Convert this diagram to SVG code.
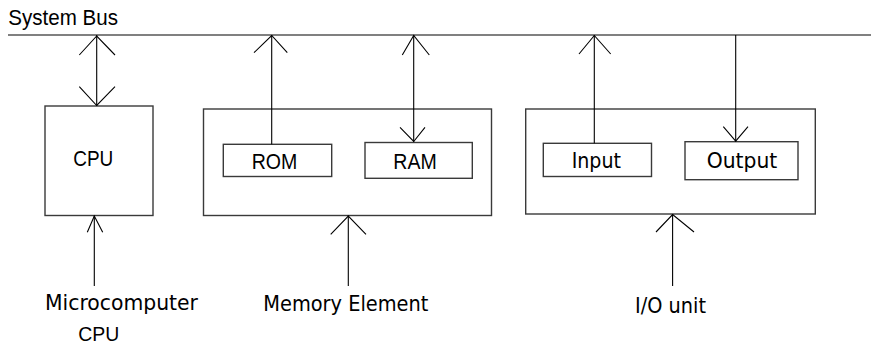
<svg xmlns="http://www.w3.org/2000/svg" width="871" height="343" viewBox="0 0 871 343">
<style>
.box{fill:none;stroke:#3a3a3a;stroke-width:1.4}
.bus{stroke:#808080;stroke-width:2}
.ln{fill:none;stroke:#000;stroke-width:1.1}
.a{font-family:"Liberation Sans",Arial,sans-serif;font-size:22px;fill:#000}
.d{font-family:"DejaVu Sans",Verdana,sans-serif;font-size:21px;fill:#000}
</style>
<rect width="871" height="343" fill="#fff"/>
<g id="bus">
<text class="a" x="8.3" y="24.5" textLength="109.7" lengthAdjust="spacingAndGlyphs">System Bus</text>
<line class="bus" x1="8" y1="35" x2="871" y2="35"/>
</g>
<g id="cpu">
<rect class="box" x="45" y="106" width="108" height="109.5"/>
<text class="a" x="73.3" y="166" textLength="40" lengthAdjust="spacingAndGlyphs">CPU</text>
</g>
<g id="memory">
<rect class="box" x="203.5" y="109" width="288" height="106.5"/>
</g>
<g id="rom">
<rect class="box" x="223.3" y="144.3" width="108.4" height="32.2"/>
<text class="a" x="251.7" y="169" textLength="45.6" lengthAdjust="spacingAndGlyphs">ROM</text>
</g>
<g id="ram">
<rect class="box" x="365" y="142.5" width="107.3" height="35.8"/>
<text class="a" x="393.3" y="169.3" textLength="43.4" lengthAdjust="spacingAndGlyphs">RAM</text>
</g>
<g id="io">
<rect class="box" x="525.7" y="109" width="289.6" height="105"/>
</g>
<g id="input">
<rect class="box" x="543.3" y="143.3" width="108.2" height="33.2"/>
<text class="d" x="571.7" y="168.3" textLength="49.3" lengthAdjust="spacingAndGlyphs">Input</text>
</g>
<g id="output">
<rect class="box" x="685" y="141.7" width="113" height="38"/>
<text class="d" x="706.7" y="168.3" textLength="70.6" lengthAdjust="spacingAndGlyphs">Output</text>
</g>
<g id="labels">
<text class="d" x="45" y="309.5" textLength="153" lengthAdjust="spacingAndGlyphs">Microcomputer</text>
<text class="a" x="78.3" y="340.5" style="font-size:21px" textLength="41" lengthAdjust="spacingAndGlyphs">CPU</text>
<text class="d" x="263.3" y="311" style="font-size:22px" textLength="165" lengthAdjust="spacingAndGlyphs">Memory Element</text>
<text class="d" x="635" y="313" style="font-size:22px" textLength="71" lengthAdjust="spacingAndGlyphs">I/O unit</text>
</g>
<g id="connectors">
<line class="ln" x1="96.7" y1="35" x2="96.7" y2="106"/>
<polyline class="ln" points="79.3,55 96.7,36 115,55"/>
<polyline class="ln" points="79.3,86.7 96.7,105.5 115,86.7"/>
<line class="ln" x1="271.7" y1="144.3" x2="271.7" y2="35"/>
<polyline class="ln" points="254,52.7 271.7,35.5 287.3,52.7"/>
<line class="ln" x1="413.7" y1="35" x2="413.7" y2="142"/>
<polyline class="ln" points="402.3,55 413.7,35.5 429.3,55"/>
<polyline class="ln" points="400,127.3 413.7,141.5 425,127.3"/>
<line class="ln" x1="594.3" y1="143.3" x2="594.3" y2="35"/>
<polyline class="ln" points="579,54 594.3,35.5 610.7,54"/>
<line class="ln" x1="735.7" y1="35" x2="735.7" y2="141.7"/>
<polyline class="ln" points="723.3,126.7 735.7,141.2 748,126.7"/>
<line class="ln" x1="94.3" y1="286" x2="94.3" y2="215.5"/>
<polyline class="ln" points="87.3,232.3 94.3,216 102.7,232.3"/>
<line class="ln" x1="348.3" y1="286" x2="348.3" y2="215.5"/>
<polyline class="ln" points="330.7,234.3 348.3,216 366,234.3"/>
<line class="ln" x1="672.6" y1="286" x2="672.6" y2="214"/>
<polyline class="ln" points="656,232 672.6,214.5 694,232"/>
</g>
</svg>
